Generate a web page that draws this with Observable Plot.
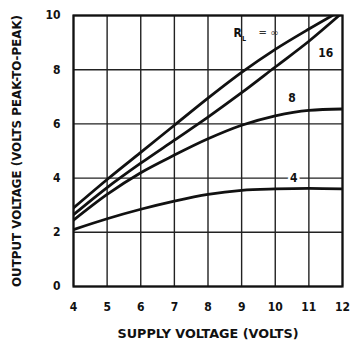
<!DOCTYPE html>
<html>
<head>
<meta charset="utf-8">
<script src="https://cdn.jsdelivr.net/npm/d3@7"></script>
<script src="https://cdn.jsdelivr.net/npm/@observablehq/plot@0.6"></script>
<style>
  html, body { margin: 0; padding: 0; background: #fff; }
  svg { display: block; }
</style>
</head>
<body>
<div id="chart"></div>
<script>
// Supply voltage (V) and output voltage (V peak-to-peak) for each load
const seriesNames = ["R∞", "16", "8", "4"];
const xInf = [4, 5, 6, 7, 8, 9, 10, 11, 11.7];
const yInf = [2.9, 3.95, 4.95, 5.95, 6.95, 7.9, 8.75, 9.5, 10.0];
const x16 = [4, 5, 6, 7, 8, 9, 10, 11, 11.9];
const y16 = [2.65, 3.65, 4.55, 5.4, 6.25, 7.15, 8.1, 9.05, 10.0];
const x8 = [4, 5, 6, 7, 8, 9, 10, 11, 12];
const y8 = [2.45, 3.4, 4.2, 4.85, 5.45, 5.95, 6.3, 6.5, 6.55];
const x4 = [4, 5, 6, 7, 8, 9, 10, 11, 12];
const y4 = [2.1, 2.5, 2.85, 3.15, 3.4, 3.55, 3.6, 3.62, 3.6];

const xTicks = [4, 5, 6, 7, 8, 9, 10, 11, 12];
const yTicks = [0, 2, 4, 6, 8, 10];
const xTitle = "SUPPLY VOLTAGE (VOLTS)";
const yTitle = "OUTPUT VOLTAGE (VOLTS PEAK-TO-PEAK)";

// curve labels (data coordinates)
const labelText = ["16", "8", "4"];
const labelX = [11.5, 10.5, 10.55];
const labelY = [8.6, 6.95, 4.0];

const rows = [];
[[xInf, yInf], [x16, y16], [x8, y8], [x4, y4]].forEach(([xs, ys], i) => {
  xs.forEach((x, j) => rows.push({series: seriesNames[i], x, y: ys[j]}));
});
const labels = labelText.map((t, i) => ({t, x: labelX[i], y: labelY[i]}));

const font = "'DejaVu Sans Condensed', 'Liberation Sans Narrow', sans-serif";

const chart = Plot.plot({
  width: 351,
  height: 349,
  marginLeft: 73,
  marginRight: 9,
  marginTop: 15,
  marginBottom: 63,
  style: {fontFamily: font, fontWeight: "bold", fontSize: "12px", color: "#111", background: "#fff"},
  x: {domain: [4, 12]},
  y: {domain: [0, 10]},
  marks: [
    Plot.gridX(xTicks, {stroke: "#222", strokeOpacity: 1, strokeWidth: 1.4}),
    Plot.gridY(yTicks, {stroke: "#222", strokeOpacity: 1, strokeWidth: 1.4}),
    Plot.frame({stroke: "#111", strokeWidth: 2.2}),
    Plot.line(rows, {x: "x", y: "y", z: "series", stroke: "#111", strokeWidth: 2.8, curve: "monotone-x", clip: true}),
    Plot.text(labels, {x: "x", y: "y", text: "t", fill: "#111", stroke: "white", strokeWidth: 5, fontSize: 12, fontWeight: "bold"}),
    Plot.text(["R"], {x: 8.88, y: 9.35, fill: "#111", fontSize: 12, fontWeight: "bold"}),
    Plot.text(["L"], {x: 9.07, y: 9.15, fill: "#111", fontSize: 7, fontWeight: "bold"}),
    Plot.text(["= ∞"], {x: 9.8, y: 9.36, fill: "#333", fontSize: 10, fontWeight: "normal", fontFamily: "DejaVu Sans"}),
    Plot.axisX(xTicks, {tickSize: 0, tickPadding: 16, fontSize: 12, fontWeight: "bold", label: null}),
    Plot.axisY(yTicks, {tickSize: 0, tickPadding: 13, fontSize: 12, fontWeight: "bold", label: null}),
    Plot.text([xTitle], {frameAnchor: "bottom", dy: 51, textAnchor: "middle", fontSize: 13, fontWeight: "bold", fill: "#111"}),
    Plot.text([yTitle], {frameAnchor: "left", dx: -57, textAnchor: "middle", rotate: -90, fontSize: 13, fontWeight: "bold", fill: "#111"})
  ]
});
document.getElementById("chart").appendChild(chart);
// fit the condensed titles to the reference lengths
chart.querySelectorAll("text").forEach((t) => {
  if (t.textContent === xTitle) { t.setAttribute("textLength", 181); t.setAttribute("lengthAdjust", "spacingAndGlyphs"); }
  if (t.textContent === yTitle) { t.setAttribute("textLength", 272); t.setAttribute("lengthAdjust", "spacingAndGlyphs"); }
});
</script>
</body>
</html>
